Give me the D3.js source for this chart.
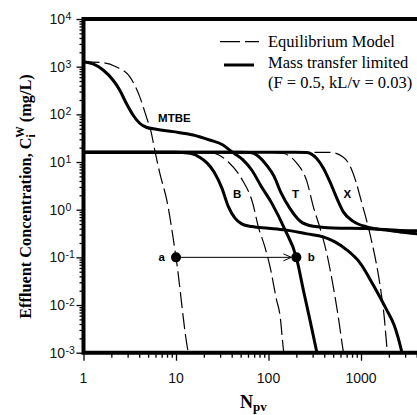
<!DOCTYPE html>
<html><head><meta charset="utf-8">
<script src="https://cdn.jsdelivr.net/npm/d3@7"></script>
<style>body{margin:0;background:#fff} svg{display:block}</style>
</head><body>
<svg id="c" width="417" height="415"></svg>
<script>
// ---------- data ----------
const xMajorTicks = [1, 10, 100, 1000, 10000];
const xTickLabels = ["1", "10", "100", "1000", ""];
const yExponents = [-3, -2, -1, 0, 1, 2, 3, 4];

const mtbeEqN = [1, 1.63, 2.24, 3.16, 4.05, 4.78, 5.41, 5.89, 6.67, 7.94, 10, 13.6, 14.5];
const mtbeEqC = [1260, 1215, 1000, 617, 235, 89, 41, 17.8, 5.9, 1.6, 0.1, 0.001, 0.0006];
const mtbeMtN = [1, 1.27, 1.63, 2.08, 2.46, 2.9, 3.43, 4.05, 4.77, 6.12, 9.28, 15.3, 23.1, 32.2, 40, 53, 65.8, 83, 108, 151, 200, 240, 283, 334, 360];
const mtbeMtC = [1270, 1140, 850, 525, 325, 171, 97, 65, 53.6, 48.7, 43.4, 37, 29, 22.8, 16.5, 11.1, 6.8, 3.15, 1.39, 0.378, 0.1, 0.0192, 0.0045, 0.001, 0.0005];

const bEqN = [1, 20.6, 26.4, 36.8, 51.3, 68, 77.5, 91, 104, 122, 133, 146, 156];
const bEqC = [16, 16, 15.1, 10, 4.43, 1.3, 0.44, 0.17, 0.063, 0.013, 0.0062, 0.00105, 0.0005];
const bMtN = [1, 5.24, 9.76, 14.2, 18.2, 21.6, 25.8, 31.2, 36.8, 43.4, 51.3, 65.8, 99.6, 151, 261, 391, 523, 700, 975, 1371, 1895, 2275, 2754, 3000];
const bMtC = [16, 16, 16, 15.2, 12.5, 9.6, 6.2, 2.9, 1.16, 0.664, 0.504, 0.442, 0.409, 0.377, 0.311, 0.269, 0.211, 0.144, 0.0767, 0.0253, 0.0079, 0.00385, 0.00106, 0.0005];

const tEqN = [1, 104, 145, 202, 259, 305, 360, 426, 504, 564, 647, 690];
const tEqC = [16, 16, 15.1, 9.44, 4.02, 1.16, 0.415, 0.122, 0.0229, 0.0062, 0.001, 0.0005];
const tMtN = [1, 49.2, 63.1, 77, 95.7, 115, 136, 171, 219, 305, 502, 1153, 2640, 4030, 6000];
const tMtC = [16, 16, 15.9, 13.4, 8.5, 5.0, 2.3, 1.05, 0.58, 0.45, 0.415, 0.405, 0.368, 0.36, 0.35];

const xEqN = [1, 462, 639, 760, 883, 1000, 1153, 1316, 1453, 1604, 1773, 1933, 2050];
const xEqC = [16, 16, 12.8, 8.28, 3.83, 1.6, 0.582, 0.201, 0.0805, 0.0265, 0.0062, 0.001, 0.0005];
const xMtN = [1, 193, 259, 332, 391, 462, 546, 644, 826, 1153, 1603, 2640, 4030, 6000];
const xMtC = [16, 16, 15.9, 11.9, 7.5, 3.83, 1.77, 0.9, 0.569, 0.436, 0.386, 0.342, 0.311, 0.29];

const pointNames = ["a", "b"];
const pointN = [10, 200];
const pointC = [0.1, 0.1];

const labelText = ["MTBE", "B", "T", "X"];
const labelN = [6.4, 41.3, 179.6, 647];
const labelC = [69, 1.77, 1.77, 1.77];

const legendText = ["Equilibrium Model", "Mass transfer limited", "(F = 0.5, kL/v = 0.03)"];

// ---------- drawing ----------
const svg = d3.select("#c");
const L = 83.5, T = 19, B = 352.7, R = 453.5;
const x = d3.scaleLog().domain([1, 1e4]).range([L, R]);
const y = d3.scaleLog().domain([1e-3, 1e4]).range([B, T]);

svg.append("defs").append("clipPath").attr("id", "clip")
  .append("rect").attr("x", L).attr("y", T).attr("width", R - L).attr("height", B - T);

const plot = svg.append("g").attr("clip-path", "url(#clip)");
const line = d3.line().x(d => x(d[0])).y(d => y(d[1])).curve(d3.curveMonotoneX);
const zip = (a, b) => a.map((v, i) => [v, b[i]]);

const eqSeries = [zip(mtbeEqN, mtbeEqC), zip(bEqN, bEqC), zip(tEqN, tEqC), zip(xEqN, xEqC)];
const mtSeries = [zip(mtbeMtN, mtbeMtC), zip(bMtN, bMtC), zip(tMtN, tMtC), zip(xMtN, xMtC)];

plot.selectAll(".eq").data(eqSeries).join("path").attr("class", "eq")
  .attr("d", line).attr("fill", "none").attr("stroke", "#000")
  .attr("stroke-width", 1.2).attr("stroke-dasharray", "16,5");
plot.selectAll(".mt").data(mtSeries).join("path").attr("class", "mt")
  .attr("d", line).attr("fill", "none").attr("stroke", "#000")
  .attr("stroke-width", 3).attr("stroke-linejoin", "round");

// arrow a -> b
const ax = x(pointN[0]), bx = x(pointN[1]), ay = y(pointC[0]);
svg.append("line").attr("x1", ax).attr("y1", ay).attr("x2", bx - 5).attr("y2", ay)
  .attr("stroke", "#000").attr("stroke-width", 1);
svg.append("path").attr("d", `M${bx - 13},${ay - 3.5}L${bx - 5},${ay}L${bx - 13},${ay + 3.5}`)
  .attr("fill", "none").attr("stroke", "#000").attr("stroke-width", 1);
svg.selectAll(".pt").data(pointN).join("circle").attr("class", "pt")
  .attr("cx", (d) => x(d)).attr("cy", (d, i) => y(pointC[i])).attr("r", 5).attr("fill", "#000");
svg.selectAll(".ptl").data(pointNames).join("text").attr("class", "ptl")
  .attr("x", (d, i) => i === 0 ? x(pointN[i]) - 17.5 : x(pointN[i]) + 11.5)
  .attr("y", (d, i) => y(pointC[i]) + 4)
  .attr("font-family", "Liberation Sans, Arial, sans-serif").attr("font-weight", "bold")
  .attr("font-size", 11.5).text(d => d);

svg.selectAll(".lab").data(labelText).join("text").attr("class", "lab")
  .attr("x", (d, i) => x(labelN[i])).attr("y", (d, i) => y(labelC[i]))
  .attr("font-family", "Liberation Sans, Arial, sans-serif").attr("font-weight", "bold")
  .attr("font-size", 11.5).text(d => d);

// axes ticks
const yMajor = yExponents.map(e => Math.pow(10, e));
const yMinor = [];
yExponents.slice(0, -1).forEach(e => { for (let m = 2; m <= 9; m++) yMinor.push(m * Math.pow(10, e)); });
const xMinor = [];
[0, 1, 2, 3].forEach(e => { for (let m = 2; m <= 9; m++) xMinor.push(m * Math.pow(10, e)); });

const yAxMaj = svg.append("g").attr("transform", `translate(${L},0)`)
  .call(d3.axisLeft(y).tickValues(yMajor).tickSize(7).tickFormat(""));
const yAxMin = svg.append("g").attr("transform", `translate(${L},0)`)
  .call(d3.axisLeft(y).tickValues(yMinor).tickSize(4).tickFormat(""));
const xAxMaj = svg.append("g").attr("transform", `translate(0,${B})`)
  .call(d3.axisBottom(x).tickValues(xMajorTicks).tickSize(8).tickFormat(""));
const xAxMin = svg.append("g").attr("transform", `translate(0,${B})`)
  .call(d3.axisBottom(x).tickValues(xMinor).tickSize(5).tickFormat(""));
[yAxMaj, yAxMin, xAxMaj, xAxMin].forEach(g => { g.select(".domain").remove(); g.selectAll("line").attr("stroke", "#000").attr("stroke-width", 1.3); });

// frame
svg.append("path").attr("d", `M${L},${T}H${R}M${L},${T}V${B}M${L},${B}H${R}`)
  .attr("stroke", "#000").attr("stroke-width", 4).attr("fill", "none").attr("stroke-linecap", "square");

// tick labels
svg.selectAll(".xl").data(xMajorTicks).join("text").attr("class", "xl")
  .attr("x", d => x(d)).attr("y", 383).attr("text-anchor", "middle")
  .attr("font-family", "Liberation Sans, Arial, sans-serif").attr("font-size", 14)
  .attr("fill", "#111").text((d, i) => xTickLabels[i]);
const yl = svg.selectAll(".yl").data(yExponents).join("text").attr("class", "yl")
  .attr("font-family", "Liberation Sans, Arial, sans-serif").attr("fill", "#111");
yl.append("tspan").attr("x", 65).attr("y", d => y(Math.pow(10, d)) + 5)
  .attr("text-anchor", "end").attr("font-size", 14).text("10");
svg.selectAll(".ye").data(yExponents).join("text").attr("class", "ye")
  .attr("font-family", "Liberation Sans, Arial, sans-serif").attr("fill", "#111")
  .attr("x", 65.5).attr("y", d => y(Math.pow(10, d)) + 1).attr("font-size", 10.5)
  .text(d => d < 0 ? "-" + (-d) : String(d));

// axis titles
const yt = svg.append("text").attr("transform", "translate(31,196.5) rotate(-90)")
  .attr("text-anchor", "middle").attr("font-family", "Liberation Serif, Times New Roman, serif")
  .attr("font-weight", "bold").attr("font-size", 16.3);
yt.append("tspan").text("Effluent Concentration, C");
yt.append("tspan").attr("font-size", 11.5).attr("dy", 4).text("i");
yt.append("tspan").attr("font-size", 11.5).attr("dx", -3.5).attr("dy", -11).text("W");
yt.append("tspan").attr("dy", 7).text(" (mg/L)");

const xt = svg.append("text").attr("x", 240).attr("y", 408)
  .attr("font-family", "Liberation Serif, Times New Roman, serif").attr("font-weight", "bold").attr("font-size", 18);
xt.append("tspan").text("N");
xt.append("tspan").attr("font-size", 13).attr("dy", 2.5).text("pv");

// legend
svg.append("line").attr("x1", 220).attr("x2", 259).attr("y1", 41.7).attr("y2", 41.7)
  .attr("stroke", "#000").attr("stroke-width", 1.2).attr("stroke-dasharray", "20,5");
svg.append("line").attr("x1", 224).attr("x2", 254).attr("y1", 65).attr("y2", 65)
  .attr("stroke", "#000").attr("stroke-width", 3);
svg.selectAll(".lg").data(legendText).join("text").attr("class", "lg")
  .attr("x", 268).attr("y", (d, i) => 47 + i * 20.5)
  .attr("font-family", "Liberation Serif, Times New Roman, serif").attr("font-size", 16.5)
  .text(d => d);
</script>
</body></html>
